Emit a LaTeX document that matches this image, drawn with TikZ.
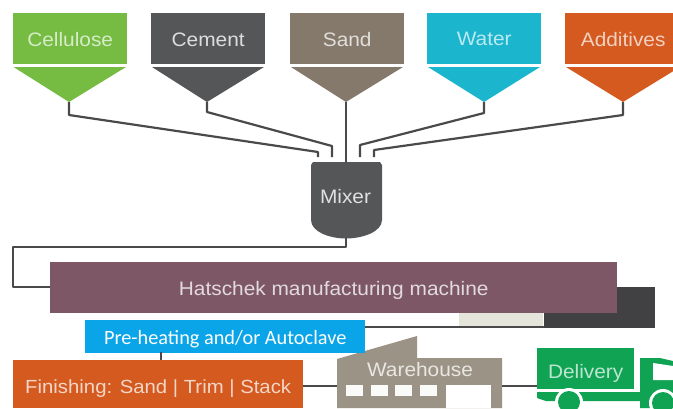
\documentclass[tikz,border=0pt]{standalone}
\usepackage{fontspec}
\setmainfont[FakeStretch=1.07]{Liberation Sans}
\newfontfamily\blueface{Carlito}
\definecolor{cGreen}{HTML}{76BC43}
\definecolor{cDark}{HTML}{545658}
\definecolor{cSand}{HTML}{85796B}
\definecolor{cWater}{HTML}{1BB5CE}
\definecolor{cOrange}{HTML}{D45A20}
\definecolor{cPlum}{HTML}{7D5766}
\definecolor{cBlue}{HTML}{0AA5E8}
\definecolor{cWare}{HTML}{9B9385}
\definecolor{cTruck}{HTML}{0FA353}
\definecolor{cBlack}{HTML}{414042}
\definecolor{cLine}{HTML}{4A4A4A}
\definecolor{cPatch}{HTML}{E6E5DC}
\tikzset{
 x=1pt,y=-1pt,
 label font/.style={font=\fontsize{19.5}{22}\selectfont},
 drop/.style={text height=#1,text depth=0pt},
 hopper/.style={minimum width=114pt,minimum height=51pt,inner sep=0pt,label font,anchor=north west,drop=16pt},
 bar/.style={inner sep=0pt,anchor=north west,label font},
 pipe/.style={draw=cLine,line width=2.2pt,line join=round},
 thin pipe/.style={draw=cLine,line width=1.8pt,line join=round}
}
\begin{document}
\begin{tikzpicture}
\useasboundingbox (0,0) rectangle (673,408);
\clip (0,0) rectangle (673,408);
% hoppers
\node[hopper,fill=cGreen,text=white!70!cGreen] (cell) at (13,13) {Cellulose};
\fill[cGreen] (13.5,67) -- (126,67) -- (69,102) -- cycle;
\coordinate (cellT) at (69,102);
\node[hopper,fill=cDark,text=white!80!cDark] (cem) at (151,13) {Cement};
\fill[cDark] (152,67) -- (264,67) -- (207,102) -- cycle;
\coordinate (cemT) at (207,102);
\node[hopper,fill=cSand,text=white!75!cSand] (sand) at (290,13) {Sand};
\fill[cSand] (291,67) -- (403,67) -- (346,102) -- cycle;
\coordinate (sandT) at (346,102);
\node[hopper,fill=cWater,text=white!70!cWater,drop=14pt] (water) at (427,13) {Water};
\fill[cWater] (428,67) -- (540,67) -- (484,102) -- cycle;
\coordinate (waterT) at (484,102);
\node[hopper,fill=cOrange,text=white!72!cOrange,minimum width=116pt] (add) at (565,13) {Additives};
\fill[cOrange] (566,67) -- (680,67) -- (623,102) -- cycle;
\coordinate (addT) at (623,102);
% mixer
\fill[cDark] (313,162) -- (380,162) -- (382,165) -- (382,220) .. controls (382,232) and (362,238.5) .. (346,238.5) .. controls (330,238.5) and (311,232) .. (311,220) -- (311,165) -- cycle;
\node[inner sep=0pt,text=white!82!cDark,label font] (mixer) at (345.5,197) {Mixer};
\coordinate (mixIn) at (346,163);
\coordinate (mixOut) at (346,238);
% feeds
\draw[pipe] (cellT) -- ++(0,13) -- (318,152) -- (318,157);
\draw[pipe] (cemT) -- ++(0,10) -- (332,146) -- (332,157);
\draw[pipe] (sandT) -- (mixIn);
\draw[pipe] (waterT) -- ++(0,11) -- (360,145) -- (360,157);
\draw[pipe] (addT) -- ++(0,13) -- (374,150) -- (374,157);
% dark box behind machine
\fill[cBlack] (544,287) -- (655,287) -- (655,328) -- (544,328) -- cycle;
\fill[cPatch] (459,313) rectangle (543,326);
\draw[thin pipe] (363,327) -- (544,327);
% machine
\node[bar,fill=cPlum,minimum width=567pt,minimum height=51pt,text=white!78!cPlum,drop=15pt] (hat) at (50,262) {Hatschek manufacturing machine};
\draw[thin pipe] (mixOut) -- (346,247) -- (13,247) -- (13,287) -- (hat.west |- 0,287);
% warehouse
\fill[cWare] (337,359) -- (417,336) -- (417,358) -- (502,358) -- (502,408) -- (337,408) -- cycle;
\node[inner sep=0pt,text=white!78!cWare,label font] (ware) at (420,370) {Warehouse};
\foreach \wx in {346,371,395,420} \fill[white!95!cWare] (\wx,385) rectangle ++(17,11);
\fill[white] (446,385) rectangle (491,408);
\coordinate (wareL) at (337,386);
\coordinate (wareR) at (502,386);
% blue
\node[bar,fill=cBlue,minimum width=280pt,minimum height=33pt,text=white,font=\blueface\fontsize{20.3}{22}\selectfont,drop=16pt] (pre) at (85,320) {Pre-heating and/or Autoclave};
% finishing
\node[bar,fill=cOrange,minimum width=290pt,minimum height=48pt,text=white!75!cOrange,font=\fontsize{19}{22}\selectfont,drop=18pt] (fin) at (13,360) {Finishing: Sand | Trim | Stack};
\draw[thin pipe] (161,352) -- (161,360);
\draw[thin pipe] (fin.east |- wareL) -- (wareL);
% truck
\node[bar,fill=cTruck,minimum width=97pt,minimum height=41pt,text=white!72!cTruck,drop=19pt] (del) at (537,348) {Delivery};
\draw[thin pipe] (wareR) -- (del.west |- wareR);
\fill[cTruck] (640,358) -- (660,358) -- (673,361) -- (673,408) -- (640,408) -- (640,392) -- (537,392) -- (537,398) -- (546,401) -- (640,401) -- cycle;
\fill[white] (653,363) -- (673,366) -- (673,380) -- (653,380) -- cycle;
\fill[white] (569,402) circle (14);
\fill[white] (663,403) circle (14);
\fill[cTruck] (569,402) circle (11);
\fill[cTruck] (663,403) circle (11);
\end{tikzpicture}
\end{document}
